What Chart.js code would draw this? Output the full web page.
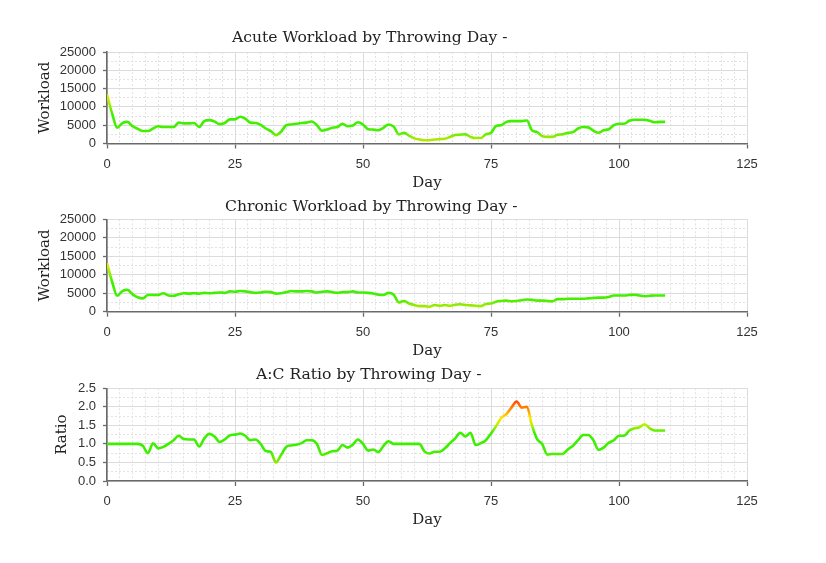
<!DOCTYPE html>
<html>
<head>
<meta charset="utf-8">
<script src="https://cdn.jsdelivr.net/npm/chart.js@4.4.1/dist/chart.umd.min.js"></script>
<style>
  html, body { margin: 0; padding: 0; background: #fff; }
  #wrap { position: relative; width: 826px; height: 563px; overflow: hidden; }
  canvas { position: absolute; left: 0; }
  .title {
    position: absolute;
    font: 15.6px "DejaVu Serif", serif;
    line-height: 18px;
    color: #222;
    white-space: nowrap;
  }
</style>
</head>
<body>
<div id="wrap">
  <canvas id="acute-chart" width="826" height="200" style="top:0"></canvas>
  <canvas id="chronic-chart" width="826" height="170" style="top:200px"></canvas>
  <canvas id="ratio-chart" width="826" height="193" style="top:370px"></canvas>
  <div class="title" style="left:232px;top:28px">Acute Workload by Throwing Day -</div>
  <div class="title" style="left:225px;top:197px">Chronic Workload by Throwing Day -</div>
  <div class="title" style="left:256px;top:365px">A:C Ratio by Throwing Day -</div>
</div>
<script>
"use strict";

const days = [
  0, 1, 2, 3, 4, 5, 6, 7, 8, 9, 10, 11, 12, 13, 14, 15, 16, 17, 18, 19,
  20, 21, 22, 23, 24, 25, 26, 27, 28, 29, 30, 31, 32, 33, 34, 35, 36, 37, 38, 39,
  40, 41, 42, 43, 44, 45, 46, 47, 48, 49, 50, 51, 52, 53, 54, 55, 56, 57, 58, 59,
  60, 61, 62, 63, 64, 65, 66, 67, 68, 69, 70, 71, 72, 73, 74, 75, 76, 77, 78, 79,
  80, 81, 82, 83, 84, 85, 86, 87, 88, 89, 90, 91, 92, 93, 94, 95, 96, 97, 98, 99,
  100, 101, 102, 103, 104, 105, 106, 107, 108, 109
];

const acuteWorkload = [
  13400, 8200, 4300, 5600, 5900, 4700, 4000, 3400, 3400, 4100,
  4700, 4500, 4500, 4500, 5700, 5500, 5500, 5600, 4500, 6100,
  6400, 6000, 5300, 5600, 6600, 6600, 7300, 6800, 5700, 5600,
  5100, 4100, 3400, 2300, 3200, 5000, 5200, 5400, 5600, 5700,
  6000, 5000, 3500, 3800, 4300, 4500, 5400, 4700, 4900, 5800,
  5200, 3900, 3800, 3600, 4300, 5200, 4600, 2500, 2900, 2100,
  1400, 1100, 900, 900, 1100, 1200, 1300, 1800, 2300, 2400,
  2500, 1800, 1500, 1500, 2500, 2900, 4800, 5000, 5900, 6100,
  6100, 6100, 6300, 3600, 3100, 2000, 1800, 1800, 2400, 2500,
  2900, 3100, 4100, 4500, 4400, 3500, 2900, 3600, 3900, 5000,
  5400, 5400, 6200, 6500, 6500, 6500, 6200, 5800, 5900, 5900
];

const chronicWorkload = [
  13100, 8100, 4300, 5600, 5900, 4700, 3900, 3600, 4500, 4500,
  4500, 5000, 4400, 4300, 4700, 5000, 4900, 5000, 4900, 5100,
  5000, 5100, 5200, 5100, 5500, 5400, 5600, 5500, 5300, 5100,
  5200, 5400, 5300, 4900, 5000, 5300, 5600, 5500, 5500, 5600,
  5500, 5200, 5400, 5500, 5300, 5100, 5300, 5300, 5500, 5200,
  5200, 5100, 4900, 4600, 4500, 5100, 4600, 2500, 2900, 2200,
  1800, 1500, 1500, 1350, 1800, 1600, 1800, 1600, 1900, 2000,
  1800, 1700, 1600, 1500, 2100, 2200, 2700, 2900, 3000, 2800,
  2900, 3100, 3300, 3200, 3000, 3000, 2900, 2800, 3400, 3400,
  3500, 3500, 3500, 3500, 3600, 3700, 3800, 3800, 4000, 4400,
  4400, 4400, 4500, 4600, 4400, 4200, 4300, 4400, 4400, 4400
];

const acRatio = [
  1.0, 1.0, 1.0, 1.0, 1.0, 1.0, 1.0, 0.95, 0.75, 1.02,
  0.88, 0.92, 1.0, 1.1, 1.22, 1.13, 1.12, 1.12, 0.93, 1.15,
  1.27, 1.2, 1.05, 1.12, 1.23, 1.25, 1.28, 1.22, 1.1, 1.12,
  1.0, 0.81, 0.78, 0.5, 0.7, 0.92, 0.96, 0.98, 1.02, 1.1,
  1.1, 1.0, 0.7, 0.75, 0.8, 0.82, 0.97, 0.9, 0.98, 1.12,
  1.0, 0.82, 0.85, 0.78, 0.95, 1.07, 1.0, 1.0, 1.0, 1.0,
  1.0, 1.0, 0.8, 0.74, 0.79, 0.79, 0.88, 1.02, 1.15, 1.3,
  1.2, 1.3, 0.97, 1.02, 1.1, 1.28, 1.48, 1.7, 1.8, 1.98,
  2.14, 1.98, 2.0, 1.5, 1.13, 1.0, 0.71, 0.73, 0.73, 0.73,
  0.85, 0.95, 1.1, 1.24, 1.24, 1.1, 0.84, 0.9, 1.03, 1.1,
  1.22, 1.22, 1.36, 1.42, 1.45, 1.53, 1.42, 1.36, 1.36, 1.36
];

const dayTicks = { min: 0, max: 125, step: 25, minorStep: 2.5 };
const workloadTicks = { min: 0, max: 25000, step: 5000, minorStep: 2500 };
const ratioTicks = { min: 0, max: 2.5, step: 0.5, minorStep: 0.25 };

// colour ramps along the value axis (value, colour)
const workloadRamp = [
  [0, "#c4e600"], [1500, "#a4ea00"], [3200, "#44f000"], [8000, "#3cf000"],
  [10500, "#9cf000"], [13500, "#f0e800"], [17000, "#ff9900"], [25000, "#ff2000"]
];
const ratioRamp = [
  [0, "#c4e600"], [0.5, "#8cea00"], [0.8, "#3cf000"], [1.3, "#3cf000"],
  [1.5, "#b4f000"], [1.7, "#ffe800"], [1.9, "#ff9a00"], [2.15, "#ff4a00"], [2.5, "#ff1000"]
];

const FONT_TICK = { family: "'Liberation Sans', Arial, sans-serif", size: 13 };
const FONT_LABEL = { family: "'DejaVu Serif', serif", size: 15 };
const MAJOR_GRID = "#dcdcdc";
const MINOR_GRID = "#e2e2e2";
const AXIS = "#6a6a6a";

function rampGradient(ramp) {
  return (ctx) => {
    const chart = ctx.chart;
    if (!chart.chartArea) {
      return ramp[0][1];
    }
    const y = chart.scales.y;
    const bottom = y.getPixelForValue(y.min);
    const top = y.getPixelForValue(y.max);
    const g = chart.ctx.createLinearGradient(0, bottom, 0, top);
    ramp.forEach(([v, c]) => g.addColorStop((v - y.min) / (y.max - y.min), c));
    return g;
  };
}

function buildChart(id, cfg) {
  const el = document.getElementById(id);
  const points = days.map((d, i) => ({ x: d, y: cfg.values[i] }));

  return new Chart(el, {
    type: "line",
    data: {
      datasets: [
        {
          data: points,
          borderColor: rampGradient(cfg.ramp),
          borderWidth: 2.6,
          pointRadius: 0,
          cubicInterpolationMode: "monotone",
          fill: false
        }
      ]
    },
    options: {
      responsive: false,
      animation: false,
      layout: { padding: cfg.padding },
      plugins: {
        legend: { display: false },
        title: { display: false },
        tooltip: { enabled: false }
      },
      scales: {
        xMinor: {
          type: "linear",
          position: "bottom",
          min: dayTicks.min,
          max: dayTicks.max,
          ticks: { display: false, stepSize: dayTicks.minorStep },
          grid: { color: MINOR_GRID, drawTicks: false, z: -1 },
          border: { display: false, dash: [2, 2] }
        },
        yMinor: {
          type: "linear",
          position: "left",
          min: cfg.yTicks.min,
          max: cfg.yTicks.max,
          ticks: { display: false, stepSize: cfg.yTicks.minorStep },
          grid: { color: MINOR_GRID, drawTicks: false, z: -1 },
          border: { display: false, dash: [2, 2] }
        },
        x: {
          type: "linear",
          position: "bottom",
          min: dayTicks.min,
          max: dayTicks.max,
          afterFit: (scale) => { scale.height = cfg.xHeight; },
          ticks: {
            stepSize: dayTicks.step,
            autoSkip: false,
            color: "#333",
            font: FONT_TICK,
            padding: 8,
            maxRotation: 0
          },
          grid: { color: MAJOR_GRID, tickColor: AXIS, tickLength: 5, tickWidth: 1.3 },
          border: { color: AXIS, width: 1.6 },
          title: { display: true, text: "Day", color: "#222", font: FONT_LABEL }
        },
        y: {
          type: "linear",
          position: "left",
          min: cfg.yTicks.min,
          max: cfg.yTicks.max,
          afterFit: (scale) => { scale.width = cfg.yWidth; },
          ticks: {
            stepSize: cfg.yTicks.step,
            autoSkip: false,
            color: "#333",
            font: FONT_TICK,
            padding: 7,
            callback: cfg.tickFormat
          },
          grid: { color: MAJOR_GRID, tickColor: AXIS, tickLength: 4, tickWidth: 1.3 },
          border: { color: AXIS, width: 1.6 },
          title: { display: true, text: cfg.yTitle, color: "#222", font: FONT_LABEL }
        }
      }
    }
  });
}

buildChart("acute-chart", {
  values: acuteWorkload,
  ramp: workloadRamp,
  yTicks: workloadTicks,
  yTitle: "Workload",
  tickFormat: (v) => String(v),
  padding: { top: 52, right: 79, bottom: 4, left: 32 },
  yWidth: 75,
  xHeight: 52.5
});

buildChart("chronic-chart", {
  values: chronicWorkload,
  ramp: workloadRamp,
  yTicks: workloadTicks,
  yTitle: "Workload",
  tickFormat: (v) => String(v),
  padding: { top: 19.3, right: 79, bottom: 6, left: 32 },
  yWidth: 75,
  xHeight: 52.3
});

buildChart("ratio-chart", {
  values: acRatio,
  ramp: ratioRamp,
  yTicks: ratioTicks,
  yTitle: "Ratio",
  tickFormat: (v) => v.toFixed(1),
  padding: { top: 18.3, right: 79, bottom: 30, left: 49.5 },
  yWidth: 57.5,
  xHeight: 52
});
</script>
</body>
</html>
